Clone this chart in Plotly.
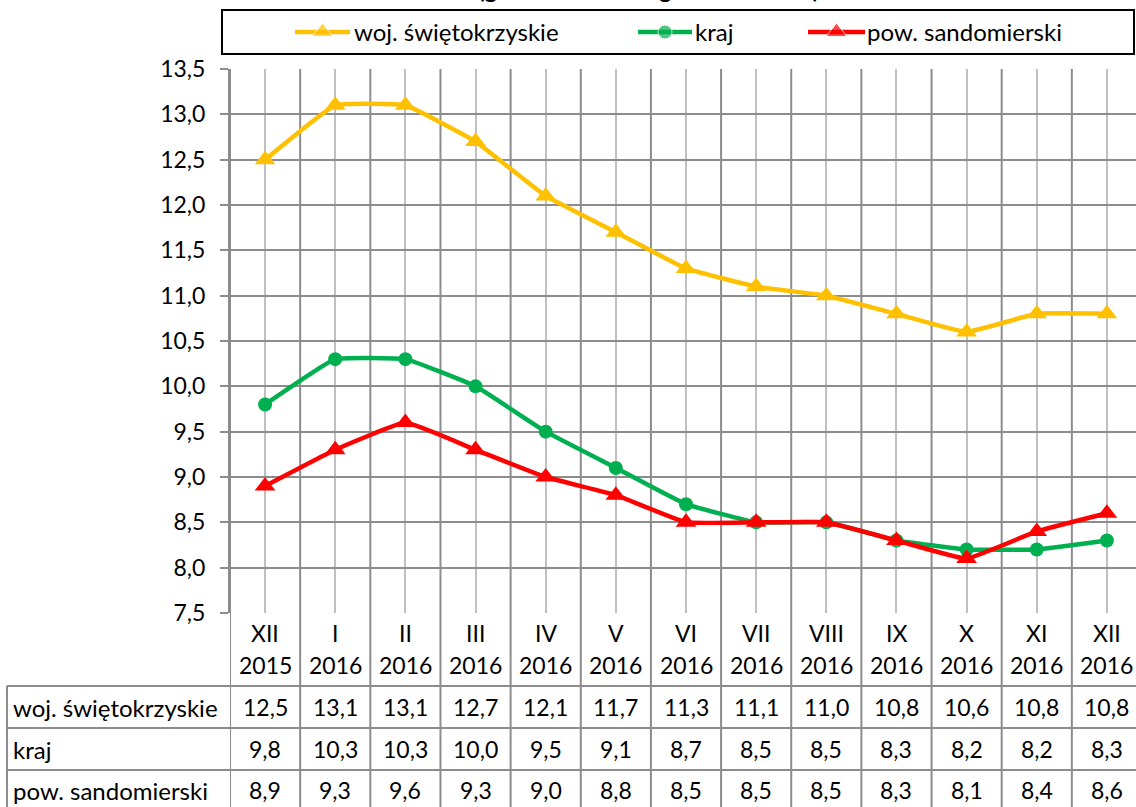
import plotly.graph_objects as go

# ---------------- data ----------------
months = ["XII", "I", "II", "III", "IV", "V", "VI", "VII", "VIII", "IX", "X", "XI", "XII"]
years = ["2015"] + ["2016"] * 12
swietokrzyskie = [12.5, 13.1, 13.1, 12.7, 12.1, 11.7, 11.3, 11.1, 11.0, 10.8, 10.6, 10.8, 10.8]
kraj = [9.8, 10.3, 10.3, 10.0, 9.5, 9.1, 8.7, 8.5, 8.5, 8.3, 8.2, 8.2, 8.3]
sandomierski = [8.9, 9.3, 9.6, 9.3, 9.0, 8.8, 8.5, 8.5, 8.5, 8.3, 8.1, 8.4, 8.6]
series_names = ["woj. świętokrzyskie", "kraj", "pow. sandomierski"]
y_ticks = [7.5, 8.0, 8.5, 9.0, 9.5, 10.0, 10.5, 11.0, 11.5, 12.0, 12.5, 13.0, 13.5]
title_text = "(grudzień 2015 - grudzień 2016)"

# ---------------- style ----------------
W, H = 1136, 807
FONT = "Lato"
FS_NUM = 23
FS_NAME = 24
colors = ["#FFC000", "#00B050", "#FF0000"]
symbols = ["triangle-up", "circle", "triangle-up"]
msizes = [18, 14, 18]
GRID_DARK = "#8C8C8C"
GRID_LIGHT = "#C0C0C0"


def X(px):
    return px / W


def Y(py):
    return 1 - py / H


def fmt(v):
    return f"{v:.1f}".replace(".", ",")


n = len(months)
xs = list(range(n))
plot_left, plot_right_val = 230, 1142
unit = (plot_right_val - plot_left) / n
x_range = [-0.5, -0.5 + (W - plot_left) / unit]

fig = go.Figure()
all_series = [swietokrzyskie, kraj, sandomierski]
for name, vals, c, sym, ms in zip(series_names, all_series, colors, symbols, msizes):
    fig.add_trace(go.Scatter(
        x=xs, y=vals, name=name, mode="lines+markers",
        line=dict(color=c, width=4.5, shape="spline", smoothing=0.3),
        marker=dict(symbol=sym, size=ms, color=c),
        showlegend=False, xaxis="x", yaxis="y", cliponaxis=False,
    ))

# legend samples (overlay pixel axes)
legend_items = [(295, 350, 352), (638, 692, 693), (808, 865, 865)]
LEG_Y = 32
for (a, b, t), name, c, sym, ms in zip(legend_items, series_names, colors, symbols, msizes):
    fig.add_trace(go.Scatter(
        x=[a, (a + b) / 2, b], y=[LEG_Y] * 3, mode="lines+markers",
        line=dict(color=c, width=4.5),
        marker=dict(symbol=sym, size=[0, ms, 0], color=c),
        showlegend=False, xaxis="x2", yaxis="y2", hoverinfo="skip",
    ))

shapes = []
annotations = []

# legend box
shapes.append(dict(type="rect", xref="paper", yref="paper",
                   x0=X(222), x1=X(1134), y0=Y(54), y1=Y(10),
                   line=dict(color="black", width=2)))
for (a, b, t), name in zip(legend_items, series_names):
    annotations.append(dict(xref="paper", yref="paper", x=X(t), y=Y(LEG_Y),
                            xanchor="left", yanchor="middle", text=name, showarrow=False,
                            font=dict(family=FONT, size=FS_NAME, color="black")))

# title (only its lowest part is visible at the top edge)
annotations.append(dict(xref="paper", yref="paper", x=X(648), y=Y(5),
                        xanchor="center", yanchor="bottom", text="<b>" + title_text + "</b>",
                        showarrow=False, font=dict(family=FONT, size=24, color="black")))

# category boundary lines (plot + labels + table)
for i in range(n + 1):
    shapes.append(dict(type="line", xref="x", yref="paper", x0=i - 0.5, x1=i - 0.5,
                       y0=Y(812), y1=Y(69), layer="below",
                       line=dict(color=GRID_DARK, width=2)))

# table lines
for py in [686, 728, 770]:
    shapes.append(dict(type="line", xref="paper", yref="paper", x0=X(7), x1=X(1145),
                       y0=Y(py), y1=Y(py), line=dict(color=GRID_DARK, width=2)))
shapes.append(dict(type="line", xref="paper", yref="paper", x0=X(7), x1=X(7),
                   y0=Y(812), y1=Y(686), line=dict(color=GRID_DARK, width=2)))

# category labels
for i in range(n):
    annotations.append(dict(xref="x", yref="paper", x=i, y=Y(633), text=months[i],
                            showarrow=False, xanchor="center", yanchor="middle",
                            font=dict(family=FONT, size=FS_NUM, color="black")))
    annotations.append(dict(xref="x", yref="paper", x=i, y=Y(665), text=years[i],
                            showarrow=False, xanchor="center", yanchor="middle",
                            font=dict(family=FONT, size=FS_NUM, color="black")))

# table rows
row_centers = [707, 749, 790]
for name, vals, py in zip(series_names, all_series, row_centers):
    annotations.append(dict(xref="paper", yref="paper", x=X(11), y=Y(py), text=name,
                            showarrow=False, xanchor="left", yanchor="middle",
                            font=dict(family=FONT, size=FS_NAME, color="black")))
    for i, v in enumerate(vals):
        annotations.append(dict(xref="x", yref="paper", x=i, y=Y(py), text=fmt(v),
                                showarrow=False, xanchor="center", yanchor="middle",
                                font=dict(family=FONT, size=FS_NUM, color="black")))

fig.update_layout(
    width=W, height=H,
    margin=dict(l=0, r=0, t=0, b=0, autoexpand=False),
    paper_bgcolor="white", plot_bgcolor="rgba(0,0,0,0)",
    font=dict(family=FONT, size=FS_NUM, color="black"),
    showlegend=False,
    xaxis=dict(domain=[X(plot_left), 1], range=x_range, tickvals=xs, showticklabels=False,
               showgrid=True, gridcolor=GRID_LIGHT, gridwidth=2, zeroline=False,
               showline=False, fixedrange=True, automargin=False),
    yaxis=dict(domain=[Y(613), Y(69)], range=[7.5, 13.5], tickvals=y_ticks,
               ticktext=[fmt(v) for v in y_ticks], showgrid=True, gridcolor=GRID_DARK,
               gridwidth=2, zeroline=False, showline=True, linecolor=GRID_DARK, linewidth=2,
               ticks="outside", ticklen=8, tickwidth=2, tickcolor=GRID_DARK,
               ticklabelstandoff=10, tickfont=dict(family=FONT, size=FS_NUM, color="black"),
               fixedrange=True, automargin=False),
    xaxis2=dict(domain=[0, 1], range=[0, W], visible=False, anchor="y2", fixedrange=True),
    yaxis2=dict(domain=[0, 1], range=[H, 0], visible=False, anchor="x2", fixedrange=True),
    shapes=shapes,
    annotations=annotations,
)

fig.write_html("out.html", config={"displayModeBar": False},
               post_script="document.body.style.margin='0px';")
